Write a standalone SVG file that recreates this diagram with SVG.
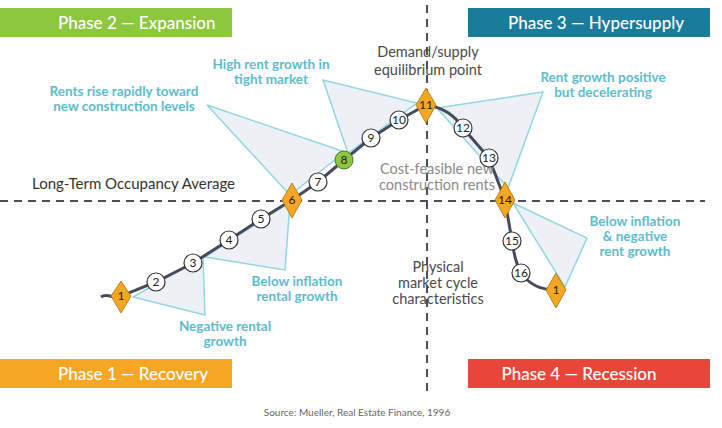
<svg xmlns="http://www.w3.org/2000/svg" width="722" height="428" viewBox="0 0 722 428">
<style>
text{font-family:Lato,"Open Sans",sans-serif}
.ph{fill:#fff;font-size:17px;font-weight:500}
.co{fill:#5dbccc;font-size:13.5px;font-weight:bold;text-anchor:middle}
.gr{fill:#4a4a4a;font-size:14.5px;text-anchor:middle}
.lg{fill:#8a8a8a;font-size:14.5px;text-anchor:middle}
.tri{fill:#edf1f6;stroke:#92d5e3;stroke-width:1.5}
.dash{stroke:#4a5060;stroke-width:2;stroke-dasharray:8 6;fill:none}
.c{fill:#fff;stroke:#333;stroke-width:1.2}
.d{fill:#f5a623;stroke:#a87010;stroke-width:0.8}
.n{font-size:12px;fill:#222;text-anchor:middle}
</style>
<rect width="722" height="428" fill="#fff"/>
<g id="axes">
<line class="dash" x1="0" y1="201" x2="705" y2="201"/>
<line class="dash" x1="427" y1="5" x2="427" y2="395"/>
</g>
<g id="callouts">
<polygon class="tri" points="133,297 203,257 205,315"/>
<polygon class="tri" points="205,257 290,202 285,270"/>
<polygon class="tri" points="207,105 290,195 345,152"/>
<polygon class="tri" points="323,80 348,153 417,103"/>
<polygon class="tri" points="437,108 543,92 508,188"/>
<polygon class="tri" points="513,203 587,238 565,287"/>
</g>
<g id="connectors">
<path d="M101,297 C108,292 113,300 121,296 L156,282 L193,263 L229,240 L261,219 L292,200 L318,182 L344,160 L371,138 L399,120 L426,105 Q450,108 463,128 L489,158 L505,200 L512,241 Q515,262 521,273 Q533,290 556,290" fill="none" stroke="#474a5e" stroke-width="3"/>
</g>
<g id="phases">
<g id="phase2"><rect x="0" y="8" width="232" height="29" fill="#8dc63f"/><text class="ph" x="58" y="29">Phase 2 — Expansion</text></g>
<g id="phase3"><rect x="468" y="8" width="242" height="29" fill="#1b7b9b"/><text class="ph" x="596" y="29" text-anchor="middle">Phase 3 — Hypersupply</text></g>
<g id="phase1"><rect x="0" y="359" width="232" height="29" fill="#f5a623"/><text class="ph" x="58" y="380">Phase 1 — Recovery</text></g>
<g id="phase4"><rect x="468" y="359" width="242" height="29" fill="#e8463a"/><text class="ph" x="579" y="380" text-anchor="middle">Phase 4 — Recession</text></g>
</g>
<g id="labels">
<text class="gr" x="428" y="57">Demand/supply</text>
<text class="gr" x="428" y="75">equilibrium point</text>
<text class="lg" x="437" y="174">Cost-feasible new</text>
<text class="lg" x="437" y="190">construction rents</text>
<text class="gr" x="438" y="272">Physical</text>
<text class="gr" x="438" y="288">market cycle</text>
<text class="gr" x="438" y="304">characteristics</text>
<text x="32" y="189" font-size="15" fill="#333">Long-Term Occupancy Average</text>
<text class="co" x="271" y="69">High rent growth in</text>
<text class="co" x="271" y="84">tight market</text>
<text class="co" x="124" y="96">Rents rise rapidly toward</text>
<text class="co" x="124" y="111">new construction levels</text>
<text class="co" x="603" y="82">Rent growth positive</text>
<text class="co" x="603" y="97">but decelerating</text>
<text class="co" x="635" y="226">Below inflation</text>
<text class="co" x="635" y="241">&amp; negative</text>
<text class="co" x="635" y="256">rent growth</text>
<text class="co" x="297" y="286">Below inflation</text>
<text class="co" x="297" y="301">rental growth</text>
<text class="co" x="225" y="331">Negative rental</text>
<text class="co" x="225" y="346">growth</text>
<text x="357" y="416" font-size="10" fill="#666" text-anchor="middle">Source: Mueller, Real Estate Finance, 1996</text>
</g>
<g id="n1"><polygon class="d" points="121,281 131,296 121,313 111,296"/><text class="n" x="121" y="300">1</text></g>
<g id="n2"><circle class="c" cx="156" cy="282" r="9"/><text class="n" x="156" y="286">2</text></g>
<g id="n3"><circle class="c" cx="193" cy="263" r="9"/><text class="n" x="193" y="267">3</text></g>
<g id="n4"><circle class="c" cx="229" cy="240" r="9"/><text class="n" x="229" y="244">4</text></g>
<g id="n5"><circle class="c" cx="261" cy="219" r="9"/><text class="n" x="261" y="223">5</text></g>
<g id="n6"><polygon class="d" points="292,183 302,200 292,218 282,200"/><text class="n" x="292" y="204">6</text></g>
<g id="n7"><circle class="c" cx="318" cy="182" r="9"/><text class="n" x="318" y="186">7</text></g>
<g id="n8"><circle cx="344" cy="160" r="9" fill="#8dc63f" stroke="#4d7a20" stroke-width="1"/><text class="n" x="344" y="164">8</text></g>
<g id="n9"><circle class="c" cx="371" cy="138" r="9"/><text class="n" x="371" y="142">9</text></g>
<g id="n10"><circle class="c" cx="399" cy="120" r="9"/><text class="n" x="399" y="124">10</text></g>
<g id="n11"><polygon class="d" points="426,88 436,105 426,123 416,105"/><text class="n" x="426" y="109">11</text></g>
<g id="n12"><circle class="c" cx="463" cy="128" r="9"/><text class="n" x="463" y="132">12</text></g>
<g id="n13"><circle class="c" cx="489" cy="158" r="9"/><text class="n" x="489" y="162">13</text></g>
<g id="n14"><polygon class="d" points="505,182 515,200 505,218 495,200"/><text class="n" x="505" y="204">14</text></g>
<g id="n15"><circle class="c" cx="512" cy="241" r="9"/><text class="n" x="512" y="245">15</text></g>
<g id="n16"><circle class="c" cx="521" cy="273" r="9"/><text class="n" x="521" y="277">16</text></g>
<g id="n1b"><polygon class="d" points="556,273 566,290 556,308 546,290"/><text class="n" x="556" y="294">1</text></g>
</svg>
